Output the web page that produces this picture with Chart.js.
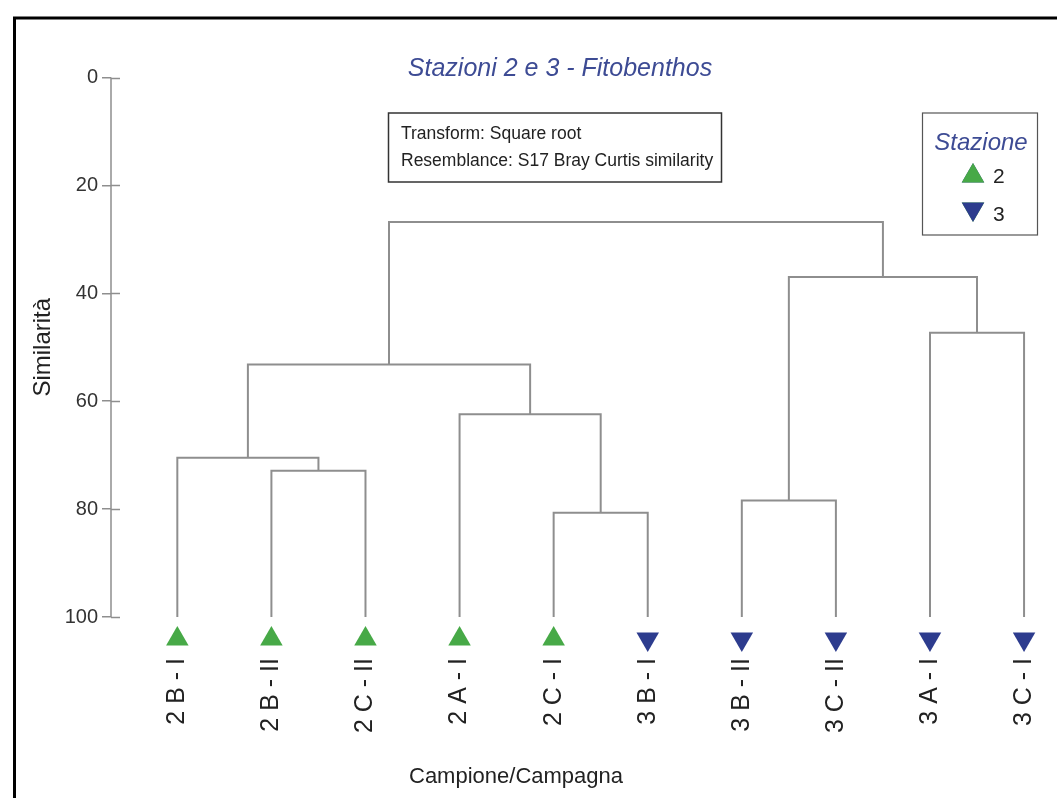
<!DOCTYPE html>
<html>
<head>
<meta charset="utf-8">
<script src="https://cdn.jsdelivr.net/npm/chart.js@4.4.1/dist/chart.umd.min.js"></script>
<style>
  html, body { margin: 0; padding: 0; background: #fff; }
  #wrap { width: 1057px; height: 798px; }
</style>
</head>
<body>
<div id="wrap"><canvas id="dendro" width="1057" height="798"></canvas></div>
<script>
// leaves in plotted order
const LEAVES = ['2 B - I', '2 B - II', '2 C - II', '2 A - I', '2 C - I', '3 B - I', '3 B - II', '3 C - II', '3 A - I', '3 C - I'];
const STATION = [2, 2, 2, 2, 2, 3, 3, 3, 3, 3];

// merges: ids 0-9 are leaves, id 10+k is the cluster made by merge k
const MERGE_LEFT = [1, 0, 4, 3, 11, 6, 8, 15, 14];
const MERGE_RIGHT = [2, 10, 5, 12, 13, 7, 9, 16, 17];
const MERGE_HEIGHT = [72.9, 70.5, 80.7, 62.4, 53.2, 78.4, 47.3, 37.0, 26.8];

const Y_TICKS = [0, 20, 40, 60, 80, 100];

const GREEN = '#47a947';
const BLUE = '#2d3c8e';
const LINE = '#8e8e8e';
const MARKER_Y = 104.1;

Chart.defaults.font.family = "'Liberation Sans', Arial, sans-serif";

// build the segments of each merge from the linkage
const nodeX = LEAVES.map((_, i) => i);
const nodeH = LEAVES.map(() => 100);
const linkSets = [];
MERGE_HEIGHT.forEach((h, k) => {
    const a = MERGE_LEFT[k], b = MERGE_RIGHT[k];
    linkSets.push({
        type: 'scatter',
        data: [
            { x: nodeX[a], y: nodeH[a] },
            { x: nodeX[a], y: h },
            { x: nodeX[b], y: h },
            { x: nodeX[b], y: nodeH[b] }
        ],
        showLine: true,
        borderColor: LINE,
        borderWidth: 2,
        pointRadius: 0,
        tension: 0
    });
    nodeX.push((nodeX[a] + nodeX[b]) / 2);
    nodeH.push(h);
});

const markerSet = (st, color, rot) => ({
    type: 'scatter',
    data: LEAVES.map((_, i) => ({ x: i, y: MARKER_Y })).filter((_, i) => STATION[i] === st),
    pointStyle: 'triangle',
    rotation: rot,
    pointRadius: 13,
    pointBackgroundColor: color,
    pointBorderColor: color,
    pointBorderWidth: 0,
    showLine: false
});

const decor = {
    id: 'decor',
    beforeDraw(chart) {
        const ctx = chart.ctx;
        ctx.save();
        ctx.fillStyle = '#fff';
        ctx.fillRect(0, 0, chart.width, chart.height);
        ctx.strokeStyle = '#000';
        ctx.lineWidth = 3;
        ctx.strokeRect(14.5, 18, chart.width + 20, chart.height + 20);
        ctx.restore();
    },
    afterDraw(chart) {
        const ctx = chart.ctx;
        const y = chart.scales.y;
        const top = y.getPixelForValue(0), bot = y.getPixelForValue(100);
        ctx.save();
        // axis line from 0 to 100 and inner half of the cross ticks
        ctx.strokeStyle = LINE;
        ctx.lineWidth = 1.5;
        ctx.beginPath();
        ctx.moveTo(y.right, top);
        ctx.lineTo(y.right, bot);
        ctx.stroke();
        Y_TICKS.forEach(v => {
            const py = Math.round(y.getPixelForValue(v)) + 0.5;
            ctx.beginPath();
            ctx.moveTo(y.right, py);
            ctx.lineTo(y.right + 9, py);
            ctx.stroke();
        });

        // y axis title, centred on the 0-100 span
        ctx.fillStyle = '#222';
        ctx.font = "24px 'Liberation Sans', Arial, sans-serif";
        ctx.textAlign = 'center';
        ctx.textBaseline = 'middle';
        ctx.translate(43, (top + bot) / 2);
        ctx.rotate(-Math.PI / 2);
        ctx.fillText('Similarità', 0, 0);
        ctx.setTransform(1, 0, 0, 1, 0, 0);
        ctx.textBaseline = 'alphabetic';

        // title
        ctx.fillStyle = '#3d4b94';
        ctx.font = "italic 25px 'Liberation Sans', Arial, sans-serif";
        ctx.textAlign = 'center';
        ctx.fillText('Stazioni 2 e 3 - Fitobenthos', 560, 76);

        // info box
        ctx.strokeStyle = '#333';
        ctx.lineWidth = 1.5;
        ctx.strokeRect(388.5, 113, 333, 69);
        ctx.fillStyle = '#222';
        ctx.font = "17.5px 'Liberation Sans', Arial, sans-serif";
        ctx.textAlign = 'left';
        ctx.fillText('Transform: Square root', 401, 139);
        ctx.fillText('Resemblance: S17 Bray Curtis similarity', 401, 166);

        // legend
        ctx.strokeStyle = '#555';
        ctx.lineWidth = 1.2;
        ctx.strokeRect(922.5, 113, 115, 122);
        ctx.fillStyle = '#3d4b94';
        ctx.font = "italic 24px 'Liberation Sans', Arial, sans-serif";
        ctx.textAlign = 'center';
        ctx.fillText('Stazione', 981, 150);
        Chart.helpers.drawPoint(ctx, { pointStyle: 'triangle', radius: 13, rotation: 0, borderWidth: 0 }, 973, 176);
        ctx.fillStyle = GREEN;
        ctx.fill();
        ctx.beginPath();
        Chart.helpers.drawPoint(ctx, { pointStyle: 'triangle', radius: 13, rotation: 180, borderWidth: 0 }, 973, 209);
        ctx.fillStyle = BLUE;
        ctx.fill();
        ctx.fillStyle = '#222';
        ctx.font = "21px 'Liberation Sans', Arial, sans-serif";
        ctx.textAlign = 'left';
        ctx.fillText('2', 993, 183);
        ctx.fillText('3', 993, 221);

        // x axis title
        ctx.font = "22px 'Liberation Sans', Arial, sans-serif";
        ctx.textAlign = 'center';
        ctx.fillText('Campione/Campagna', 516, 783);
        ctx.restore();
    }
};

new Chart(document.getElementById('dendro'), {
    type: 'scatter',
    data: {
        datasets: [...linkSets, markerSet(2, GREEN, 0), markerSet(3, BLUE, 180)]
    },
    options: {
        responsive: false,
        animation: false,
        layout: { padding: { left: 0, top: 77.5, right: 0, bottom: 0 } },
        plugins: { legend: { display: false }, tooltip: { enabled: false } },
        scales: {
            x: {
                type: 'linear',
                position: 'bottom',
                min: -0.705,
                max: 9.212,
                grid: { display: false, drawTicks: false },
                border: { display: false },
                afterBuildTicks: (axis) => { axis.ticks = LEAVES.map((_, i) => ({ value: i })); },
                afterFit: (scale) => { scale.height = 142; scale.paddingLeft = 0; scale.paddingRight = 0; },
                ticks: {
                    autoSkip: false,
                    minRotation: 90,
                    maxRotation: 90,
                    padding: 2,
                    color: '#222',
                    font: { size: 25 },
                    callback: (v) => LEAVES[v] ?? ''
                }
            },
            y: {
                type: 'linear',
                reverse: true,
                min: 0,
                max: 107.23,
                afterBuildTicks: (axis) => { axis.ticks = Y_TICKS.map(v => ({ value: v })); },
                afterFit: (scale) => { scale.width = 111; },
                grid: { drawOnChartArea: false, drawTicks: true, tickLength: 9, color: LINE, lineWidth: 1.5 },
                border: { display: false },
                ticks: { padding: 4, color: '#333', font: { size: 20 } }
            }
        }
    },
    plugins: [decor]
});
</script>
</body>
</html>
